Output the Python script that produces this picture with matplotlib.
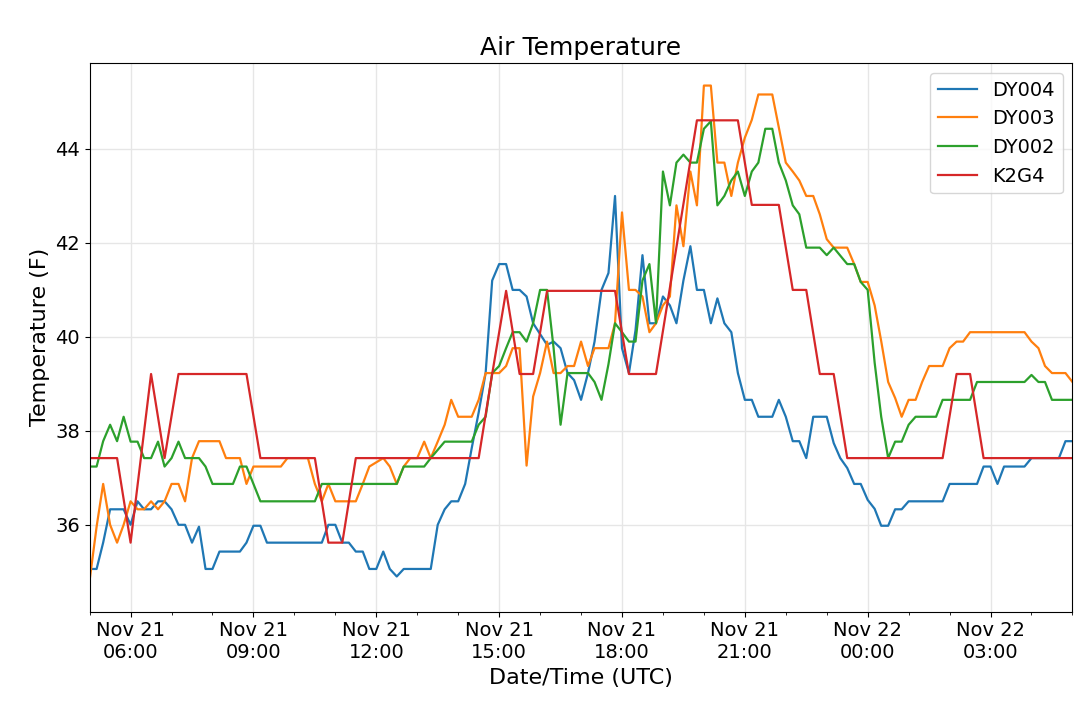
import matplotlib
matplotlib.use("Agg")
import matplotlib.pyplot as plt
import matplotlib.dates as mdates
import pandas as pd

base = pd.Timestamp("2018-11-21 00:00")

# hours since Nov 21 00:00 UTC, temperature (F)
dy004_h = [5.0,5.17,5.33,5.5,5.83,6.0,6.17,6.33,6.5,6.67,6.83,7.0,7.17,7.33,7.5,7.67,7.83,8.0,8.17,8.67,8.83,9.0,9.17,9.33,10.67,10.83,11.0,11.17,11.33,11.5,11.67,11.83,12.0,12.17,12.33,12.5,12.67,13.33,13.5,13.67,13.83,14.0,14.17,14.33,14.5,14.67,14.83,15.0,15.17,15.33,15.5,15.67,15.83,16.0,16.17,16.33,16.5,16.67,16.83,17.0,17.17,17.33,17.5,17.67,17.83,18.0,18.17,18.33,18.5,18.67,18.83,19.0,19.17,19.33,19.5,19.67,19.83,20.0,20.17,20.33,20.5,20.67,20.83,21.0,21.17,21.33,21.67,21.83,22.0,22.17,22.33,22.5,22.67,23.0,23.17,23.33,23.5,23.67,23.83,24.0,24.17,24.33,24.5,24.67,24.83,25.0,25.83,26.0,26.67,26.83,27.0,27.17,27.33,27.83,28.0,28.67,28.83,29.0]
dy004_v = [35.06,35.06,35.62,36.33,36.33,36.0,36.5,36.33,36.33,36.5,36.5,36.33,36.0,36.0,35.62,35.96,35.06,35.06,35.43,35.43,35.62,35.98,35.98,35.62,35.62,36.0,36.0,35.62,35.62,35.43,35.43,35.06,35.06,35.43,35.06,34.9,35.06,35.06,36.0,36.33,36.5,36.5,36.87,37.63,38.39,39.23,41.2,41.55,41.55,41.0,41.0,40.86,40.29,40.06,39.83,39.9,39.76,39.23,39.08,38.66,39.23,39.9,41.0,41.36,43.0,39.76,39.23,40.14,41.74,40.29,40.29,40.86,40.67,40.29,41.2,41.93,41.0,41.0,40.29,40.82,40.29,40.1,39.23,38.66,38.66,38.3,38.3,38.66,38.3,37.78,37.78,37.42,38.3,38.3,37.74,37.42,37.21,36.87,36.87,36.53,36.34,35.98,35.98,36.33,36.33,36.5,36.5,36.87,36.87,37.24,37.24,36.87,37.24,37.24,37.42,37.42,37.78,37.78]

dy003_h = [5.0,5.17,5.33,5.5,5.67,5.83,6.0,6.17,6.33,6.5,6.67,6.83,7.0,7.17,7.33,7.5,7.67,8.17,8.33,8.67,8.83,9.0,9.67,9.83,10.33,10.5,10.67,10.83,11.0,11.5,11.67,11.83,12.17,12.33,12.5,12.67,12.83,13.0,13.17,13.33,13.5,13.67,13.83,14.0,14.33,14.5,14.67,15.0,15.17,15.33,15.5,15.67,15.83,16.0,16.17,16.33,16.5,16.67,16.83,17.0,17.17,17.33,17.67,17.83,18.0,18.17,18.33,18.5,18.67,18.83,19.0,19.17,19.33,19.5,19.67,19.83,20.0,20.17,20.33,20.5,20.67,20.83,21.0,21.17,21.33,21.67,22.0,22.17,22.33,22.5,22.67,22.83,23.0,23.17,23.5,23.67,23.83,24.0,24.17,24.33,24.5,24.67,24.83,25.0,25.17,25.33,25.5,25.83,26.0,26.17,26.33,26.5,27.83,28.0,28.17,28.33,28.5,28.83,29.0]
dy003_v = [34.82,35.96,36.87,36.0,35.62,36.0,36.5,36.33,36.33,36.5,36.33,36.5,36.87,36.87,36.5,37.42,37.78,37.78,37.42,37.42,36.87,37.24,37.24,37.42,37.42,36.87,36.5,36.87,36.5,36.5,36.87,37.24,37.42,37.24,36.87,37.24,37.42,37.42,37.77,37.42,37.77,38.13,38.66,38.3,38.3,38.66,39.23,39.23,39.38,39.76,39.76,37.26,38.73,39.23,39.9,39.23,39.23,39.38,39.38,39.9,39.38,39.76,39.76,40.29,42.65,41.0,41.0,40.86,40.1,40.29,40.67,40.86,42.8,41.93,43.52,42.8,45.35,45.35,43.71,43.71,43.0,43.71,44.24,44.62,45.16,45.16,43.71,43.52,43.33,43.0,43.0,42.61,42.08,41.9,41.9,41.55,41.17,41.17,40.67,39.91,39.04,38.7,38.3,38.66,38.66,39.04,39.38,39.38,39.76,39.9,39.9,40.1,40.1,39.9,39.76,39.38,39.23,39.23,39.04]

dy002_h = [5.0,5.17,5.33,5.5,5.67,5.83,6.0,6.17,6.33,6.5,6.67,6.83,7.0,7.17,7.33,7.67,7.83,8.0,8.5,8.67,8.83,9.0,9.17,10.5,10.67,12.5,12.67,13.17,13.33,13.67,14.33,14.5,14.67,14.83,15.0,15.17,15.33,15.5,15.67,15.83,16.0,16.17,16.33,16.5,16.67,17.17,17.33,17.5,17.67,17.83,18.0,18.17,18.33,18.5,18.67,18.83,19.0,19.17,19.33,19.5,19.67,19.83,20.0,20.17,20.33,20.5,20.67,20.83,21.0,21.17,21.33,21.5,21.67,21.83,22.0,22.17,22.33,22.5,22.83,23.0,23.17,23.5,23.67,23.83,24.0,24.17,24.33,24.5,24.67,24.83,25.0,25.17,25.67,25.83,26.5,26.67,27.83,28.0,28.17,28.33,28.5,29.0]
dy002_v = [37.24,37.24,37.78,38.13,37.78,38.3,37.77,37.77,37.42,37.42,37.77,37.24,37.42,37.77,37.42,37.42,37.24,36.87,36.87,37.24,37.24,36.87,36.5,36.5,36.87,36.87,37.24,37.24,37.42,37.77,37.77,38.13,38.3,39.23,39.38,39.76,40.1,40.1,39.9,40.29,41.0,41.0,39.76,38.13,39.23,39.23,39.04,38.66,39.42,40.29,40.1,39.9,39.9,41.2,41.55,40.29,43.52,42.8,43.71,43.88,43.71,43.71,44.43,44.59,42.8,43.0,43.33,43.52,43.0,43.52,43.71,44.43,44.43,43.71,43.33,42.8,42.61,41.9,41.9,41.74,41.9,41.55,41.55,41.17,41.0,39.45,38.3,37.42,37.77,37.77,38.13,38.3,38.3,38.66,38.66,39.04,39.04,39.19,39.04,39.04,38.66,38.66]

k2g4_h = [5.0,5.17,5.67,6.0,6.5,6.83,7.17,8.83,9.17,10.5,10.83,11.17,11.5,14.5,14.83,15.17,15.5,15.83,16.17,17.83,18.17,18.83,19.83,20.83,21.17,21.83,22.17,22.5,22.83,23.17,23.5,25.83,26.17,26.5,26.83,29.0]
k2g4_v = [37.42,37.42,37.42,35.62,39.21,37.42,39.21,39.21,37.42,37.42,35.62,35.62,37.42,37.42,39.21,40.98,39.21,39.21,40.98,40.98,39.21,39.21,44.61,44.61,42.81,42.81,41.0,41.0,39.21,39.21,37.42,37.42,39.21,39.21,37.42,37.42]

series = [("DY004", dy004_h, dy004_v, "#1f77b4"),
          ("DY003", dy003_h, dy003_v, "#ff7f0e"),
          ("DY002", dy002_h, dy002_v, "#2ca02c"),
          ("K2G4", k2g4_h, k2g4_v, "#d62728")]

fig = plt.figure(figsize=(10.8, 7.08), dpi=100)
ax = fig.add_axes([0.083, 0.136, 0.91, 0.775])
for name, h, v, c in series:
    t = [base + pd.Timedelta(hours=x) for x in h]
    ax.plot(t, v, color=c, lw=1.6, label=name)

ax.set_xlim(base + pd.Timedelta(hours=5), base + pd.Timedelta(hours=29))
ax.set_ylim(34.15, 45.83)
ax.set_yticks([36, 38, 40, 42, 44])
ax.xaxis.set_major_locator(mdates.HourLocator(byhour=[0, 3, 6, 9, 12, 15, 18, 21]))
ax.xaxis.set_minor_locator(mdates.HourLocator())
ax.xaxis.set_major_formatter(mdates.DateFormatter("%b %d\n%H:%M"))
ax.tick_params(labelsize=14)
ax.grid(True, color="#e6e6e6", lw=1)
ax.set_title("Air Temperature", fontsize=18)
ax.set_xlabel("Date/Time (UTC)", fontsize=16)
ax.set_ylabel("Temperature (F)", fontsize=16)
ax.legend(loc="upper right", fontsize=14)
fig.savefig("out.png", dpi=100)
